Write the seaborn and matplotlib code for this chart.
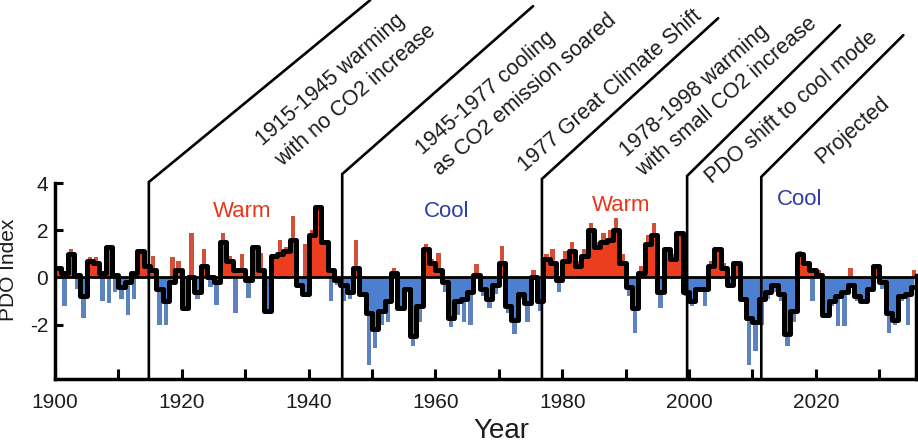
import numpy as np
import pandas as pd
import matplotlib
matplotlib.use("Agg")
import matplotlib.pyplot as plt
import seaborn as sns

# ---------------- data ----------------
years = list(range(1900, 2036))

pdo_line = [
    0.4, 0.2, 1.0, 0.1, -0.8, 0.7, 0.6, 0.2, 1.3, 0.1,          # 1900-1909
    -0.4, -0.2, 0.2, 1.1, 0.5, 0.3, -0.5, -1.0, -0.2, 0.3,      # 1910-1919
    -1.3, 0.0, -0.6, 0.5, 0.0, -0.2, 1.5, 0.7, 0.3, 0.3,        # 1920-1929
    -0.1, 1.3, 0.3, -1.4, 0.9, 1.0, 1.1, 1.6, -0.3, -0.7,       # 1930-1939
    1.8, 3.0, 1.5, 0.3, -0.1, -0.3, -0.6, 0.4, -0.7, -1.5,      # 1940-1949
    -2.2, -1.4, -1.0, 0.2, -1.3, -0.5, -2.5, -1.2, 1.2, 0.6,    # 1950-1959
    0.3, -0.2, -1.7, -1.0, -0.9, -0.6, 0.1, -0.5, -0.9, -0.3,   # 1960-1969
    0.6, -1.2, -1.8, -0.7, -1.1, 0.0, -1.0, 0.8, 0.6, -0.1,     # 1970-1979
    0.7, 1.1, 0.5, 0.9, 2.0, 1.3, 1.5, 1.6, 2.0, 0.6,           # 1980-1989
    -0.4, -1.3, 0.2, 1.4, 1.8, -0.6, 1.2, 0.8, 1.9, -0.6,       # 1990-1999
    -1.0, -0.5, -0.5, 0.5, 1.2, 0.4, -0.3, 0.6, -0.9, -1.7,     # 2000-2009
    -1.9, -0.9, -0.6, -0.3, -0.7, -2.4, -1.4, 1.0, 0.6, 0.3,    # 2010-2019
    0.1, -1.6, -1.0, -0.8, -0.6, -0.3, -0.8, -1.0, -0.5, 0.5,   # 2020-2029
    -0.2, -1.5, -1.8, -0.8, -0.7, -0.4,                         # 2030-2035
]

pdo_bars = [
    0.5, -1.2, 1.2, -0.5, -1.7, 0.85, 0.85, -1.0, -1.1, -0.6,   # 1900-1909
    -0.9, -1.6, -0.9, 1.2, 0.5, 0.9, -2.0, -2.0, 0.85, 0.7,     # 1910-1919
    -0.9, 1.9, -0.9, 1.2, -0.4, -1.15, 1.9, 0.9, -1.5, 1.0,     # 1920-1929
    -0.85, 1.0, 1.05, -0.5, 1.0, 1.6, 1.3, 2.6, -0.4, 1.4,      # 1930-1939
    2.0, 2.3, 1.0, -1.0, -0.3, -1.0, -0.9, 1.6, -0.8, -3.7,     # 1940-1949
    -3.0, -2.0, -1.9, 0.4, -0.8, -0.5, -2.9, -1.9, 1.4, 0.8,    # 1950-1959
    1.05, -0.6, -2.1, -1.6, -1.9, -2.0, 0.55, -0.8, -1.3, -0.7, # 1960-1969
    1.35, -1.5, -2.4, -0.9, -1.9, 0.3, -1.4, 1.0, 1.2, -0.6,    # 1970-1979
    1.1, 1.5, 0.7, 1.2, 2.3, 1.5, 1.9, 2.0, 2.5, 1.0,           # 1980-1989
    -0.8, -2.35, 0.5, 1.8, 2.3, -1.3, 1.3, 1.0, 1.2, -0.8,      # 1990-1999
    -1.2, -0.6, -1.2, 0.7, 0.6, 0.6, -0.4, 0.6, -1.0, -3.7,     # 2000-2009
    -3.1, -2.0, -0.9, -0.6, -1.0, -2.9, -1.9, 1.1, 0.3, -1.0,   # 2010-2019
    0.3, -1.6, -1.2, -2.05, -2.05, 0.4, -1.0, -1.1, -0.6, 0.3,  # 2020-2029
    -0.5, -2.35, -2.0, -1.0, -2.0, 0.3,                         # 2030-2035
]

event_years = [1914.8, 1945.3, 1976.8, 1999.7, 2011.4]
event_labels = [
    ["1915-1945 warming", "with no CO2 increase"],
    ["1945-1977 cooling", "as CO2 emission soared"],
    ["1977 Great Climate Shift"],
    ["1978-1998 warming", "with small CO2 increase"],
    ["PDO shift to cool mode"],
    ["Projected"],
]
phase_labels = ["Warm", "Cool", "Warm", "Cool"]
phase_kinds = ["warm", "cool", "warm", "cool"]

# ---------------- style ----------------
RED = "#ec3d1e"
BLUE = "#4c7fcf"
WARM_TXT = "#e8361c"
COOL_TXT = "#2d3fa5"
INK = "#1c1c1c"

sns.set_theme(style="white")
plt.rcParams["font.family"] = ["Liberation Sans", "DejaVu Sans"]
plt.rcParams["axes.unicode_minus"] = False

W, H = 918, 443
fig = plt.figure(figsize=(W / 100, H / 100), dpi=100)
ax = fig.add_axes([55 / W, 64 / H, 861 / W, 196 / H])
YMIN, YMAX = -4.3, 4.0
XMIN, XMAX = 1900, 2035.8

df = pd.DataFrame({"year": years, "bar": pdo_bars, "line": pdo_line})
df["x"] = df["year"] + 0.5
df["phase"] = np.where(df["bar"] >= 0, "warm", "cool")

sns.barplot(data=df, x="x", y="bar", hue="phase",
            palette={"warm": RED, "cool": BLUE}, native_scale=True,
            width=0.7, dodge=False, errorbar=None, legend=False,
            ax=ax, zorder=1, linewidth=0)

ax.fill_between(df["x"], np.clip(df["line"], 0, None), 0, step="mid",
                color=RED, lw=0, zorder=2)
ax.fill_between(df["x"], np.clip(df["line"], None, 0), 0, step="mid",
                color=BLUE, lw=0, zorder=2)

sns.lineplot(data=df, x="x", y="line", color="black", lw=3.6,
             drawstyle="steps-mid", ax=ax, zorder=3)
ax.axhline(0, color="black", lw=2.0, zorder=4)

ax.set_xlim(XMIN, XMAX)
ax.set_ylim(YMIN, YMAX)

# spines / ticks
ax.spines["top"].set_visible(False)
for s in ["left", "bottom", "right"]:
    ax.spines[s].set_linewidth(2.5)
    ax.spines[s].set_color("black")
ax.spines["right"].set_bounds(YMIN, 0.1)

ax.set_xticks(list(range(1900, 2021, 20)))
ax.set_xticks(list(range(1910, 2031, 20)), minor=True)
ax.set_yticks([-2, 0, 2, 4])
ax.set_yticklabels(["-2", "0", "2", "4"])
ax.tick_params(axis="x", which="both", direction="in", length=7, width=2.2,
               color="black", labelsize=15, labelcolor=INK, pad=10,
               bottom=True)
ax.tick_params(axis="y", direction="in", length=6, width=2.2,
               color="black", labelsize=15, labelcolor=INK, pad=5, left=True)
ax.set_xlabel("")
ax.set_ylabel("PDO Index", fontsize=15, color=INK)
ax.yaxis.set_label_coords(-0.043, 0.556)
fig.text(501 / W, 5 / H, "Year", fontsize=20, color=INK,
         ha="center", va="baseline")

# phase labels
phase_pos = [(1929.5, 2.81), (1961.8, 2.81), (1989.3, 3.04), (2017.5, 3.32)]
for (px, py), lab, kind in zip(phase_pos, phase_labels, phase_kinds):
    ax.text(px, py, lab, fontsize=16, ha="center", va="center",
            color=WARM_TXT if kind == "warm" else COOL_TXT, zorder=6)

# event bracket lines
corner_vals = [4.04, 4.38, 4.17, 4.30, 4.26]
diag_ends = [(1949.7, 11.74), (1975.4, 11.49), (2004.6, 10.98),
             (2023.8, 10.68), (2033.8, 10.26)]
for ev, cv, (ex, ey) in zip(event_years, corner_vals, diag_ends):
    ax.plot([ev, ev, ex], [YMIN, cv, ey], color="black", lw=1.9,
            clip_on=False, zorder=5, solid_joinstyle="miter")

# event texts (baseline start of each line)
text_starts = [
    [(1932.81, 5.57), (1935.80, 4.68)],
    [(1958.04, 5.19), (1960.73, 4.30)],
    [(1974.13, 4.47)],
    [(1990.22, 5.11), (1992.74, 4.26)],
    [(2003.63, 3.96)],
    [(2020.98, 4.81)],
]
for lines, starts in zip(event_labels, text_starts):
    for s, (tx, ty) in zip(lines, starts):
        ax.text(tx, ty, s, rotation=41, rotation_mode="anchor",
                ha="left", va="baseline", fontsize=15.5, color=INK,
                clip_on=False, zorder=6)

fig.savefig("out.png", dpi=100)
